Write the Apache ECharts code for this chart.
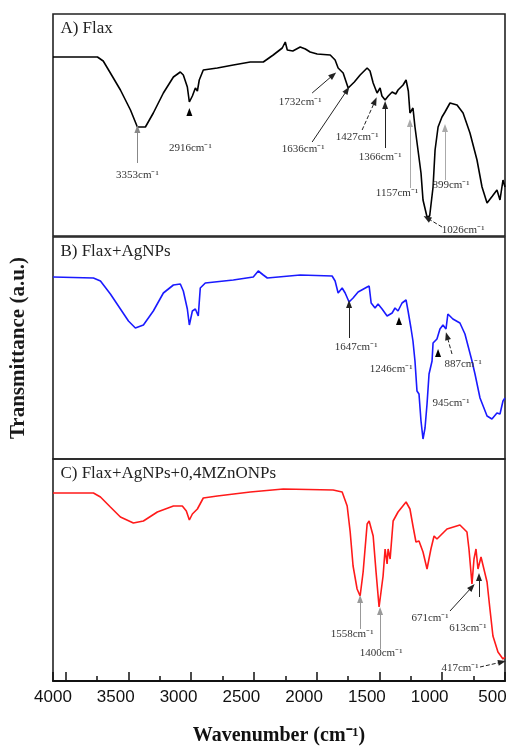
<!DOCTYPE html>
<html>
<head>
<meta charset="utf-8">
<script src="https://cdn.jsdelivr.net/npm/echarts@6/dist/echarts.min.js"></script>
<style>html,body{margin:0;padding:0;background:#fff}#c{width:506px;height:746px}</style>
</head>
<body>
<div id="c"></div>
<script>
// ---- data (wavenumber cm-1, transmittance a.u.) ----
const flax = [[4000,179],[3800,179],[3646,179],[3600,175],[3543,163],[3463,146],[3383,126],[3328,109],[3264,109],[3201,123],[3121,143],[3041,159],[2986,164],[2962,161],[2930,149],[2914,134],[2890,140],[2866,148],[2850,145],[2835,156],[2803,166],[2691,168],[2564,171],[2429,174],[2325,174],[2246,181],[2174,188],[2150,194],[2134,186],[2090,185],[2031,189],[1990,187],[1952,184],[1896,182],[1792,181],[1753,176],[1729,168],[1689,163],[1649,148],[1600,154],[1554,161],[1498,168],[1475,165],[1450,153],[1419,143],[1395,148],[1380,140],[1355,136],[1330,140],[1299,144],[1270,142],[1252,146],[1212,151],[1188,156],[1170,145],[1157,123],[1133,128],[1117,109],[1093,86],[1069,63],[1053,36],[1021,19],[1000,20],[973,49],[957,86],[933,109],[902,119],[878,124],[838,133],[782,131],[734,123],[679,103],[623,76],[583,49],[543,33],[500,40],[464,46],[440,36],[416,56],[400,49]];
const flaxAg = [[4000,182],[3678,181],[3622,178],[3543,165],[3463,150],[3399,138],[3344,131],[3280,134],[3201,148],[3121,166],[3041,174],[2986,175],[2962,168],[2930,150],[2914,134],[2890,148],[2866,150],[2843,143],[2827,171],[2787,176],[2564,179],[2405,182],[2365,188],[2325,184],[2293,181],[2031,184],[1777,183],[1753,178],[1729,166],[1697,171],[1673,166],[1642,157],[1610,161],[1570,167],[1498,172],[1482,173],[1466,156],[1435,151],[1411,155],[1379,150],[1339,143],[1299,146],[1276,151],[1252,148],[1220,156],[1188,159],[1172,148],[1149,131],[1133,118],[1117,98],[1101,68],[1085,65],[1069,38],[1053,20],[1037,31],[1021,55],[1005,85],[981,98],[973,116],[942,120],[918,130],[894,134],[870,130],[855,145],[815,140],[759,136],[719,125],[663,98],[639,85],[599,61],[543,43],[504,40],[464,46],[440,45],[416,58],[400,61]];
const flaxAgZn = [[4000,188],[3678,188],[3622,184],[3543,174],[3463,164],[3360,158],[3280,160],[3169,169],[3041,175],[2970,175],[2938,170],[2914,161],[2890,167],[2850,172],[2835,170],[2803,183],[2691,185],[2429,189],[2166,192],[1769,191],[1697,189],[1657,175],[1633,149],[1610,115],[1578,92],[1554,85],[1530,109],[1498,157],[1482,160],[1450,145],[1427,109],[1403,74],[1371,105],[1355,132],[1339,117],[1331,132],[1315,122],[1291,160],[1252,169],[1188,179],[1157,172],[1133,155],[1109,139],[1085,140],[1053,129],[1021,112],[990,132],[965,145],[942,142],[910,146],[862,152],[759,156],[703,149],[687,132],[663,97],[647,122],[631,132],[615,112],[591,124],[576,124],[543,99],[520,72],[496,45],[456,29],[416,22],[400,24]];

const xTicks = [4000,3500,3000,2500,2000,1500,1000,500];
const titles = ['A) Flax','B) Flax+AgNPs','C) Flax+AgNPs+0,4MZnONPs'];
const colors = ['#000000','#1a1aff','#ff1a1a'];

// peak labels per panel: [text, wavenumber, value]
const labelsA = [['3353cm⁻¹',3328,61],['2916cm⁻¹',2906,88],['1732cm⁻¹',2031,134],['1636cm⁻¹',2007,87],['1427cm⁻¹',1578,99],['1366cm⁻¹',1395,79],['1157cm⁻¹',1260,43],['899cm⁻¹',830,51],['1026cm⁻¹',734,6]];
const labelsB = [['1647cm⁻¹',1586,112],['1246cm⁻¹',1307,90],['887cm⁻¹',734,95],['945cm⁻¹',830,56]];
const labelsC = [['1558cm⁻¹',1618,47],['1400cm⁻¹',1387,28],['671cm⁻¹',997,63],['613cm⁻¹',695,53],['417cm⁻¹',758,13]];
// arrows: [w1,v1,w2,v2,lineColor,dashed]
const arrowsA = [[3328,73,3328,107,'#888',0],[1936,143,1769,161,'#222',0],[1936,94,1657,146,'#222',0],[1538,106,1435,135,'#222',1],[1355,88,1355,131,'#222',0],[1157,48,1157,113,'#aaa',0],[878,56,878,108,'#aaa',0],[902,9,1021,18,'#222',1]];
const arrowsB = [[1642,121,1642,155,'#222',0],[822,105,862,123,'#222',1]];
const arrowsC = [[1554,52,1554,82,'#999',0],[1395,32,1395,70,'#999',0],[838,70,663,94,'#222',0],[607,84,607,104,'#222',0],[599,14,424,19,'#222',1]];
// bare arrowheads: [w, v]
const headsA = [[2914,124]];
const headsB = [[1244,138],[933,106]];
const headsC = [];

const chart = echarts.init(document.getElementById('c'), null, {renderer:'canvas'});
const tops = [14, 237, 459];
const H = 222;
const serif = '"Liberation Serif","Times New Roman",serif';

const grids = tops.map(t => ({left:53, right:1, top:t, height:H, show:true, borderColor:'#222', borderWidth:1.6,
  backgroundColor:'transparent', containLabel:false, outerBoundsMode:'none'}));
const xAxes = tops.map((t,i) => ({
  gridIndex:i, type:'value', min:400, max:4000, inverse:true, interval:500,
  show: i===2,
  axisLine:{show:true, onZero:false, lineStyle:{color:'#111', width:2}},
  axisTick:{show:true, inside:true, length:9, lineStyle:{color:'#111', width:1.5}},
  minorTick:{show:true, splitNumber:2, length:5, lineStyle:{color:'#111', width:1.5}},
  splitLine:{show:false},
  axisLabel:{show:true, margin:8, fontSize:17, color:'#111', fontFamily:'"Liberation Sans",Arial,sans-serif',
    customValues: xTicks, formatter: v => (v===400? '' : String(v))},
  name: i===2 ? 'Wavenumber (cm⁻¹)' : '', nameLocation:'middle', nameGap:45,
  nameTextStyle:{fontSize:20, fontWeight:'bold', fontFamily:serif, color:'#111'}
}));
const yAxes = tops.map((t,i) => ({
  gridIndex:i, type:'value', min:0, max:H, show:true,
  axisLine:{show:false}, axisTick:{show:false}, axisLabel:{show:false}, splitLine:{show:false},
  name: i===1 ? 'Transmittance (a.u.)' : '', nameLocation:'middle', nameGap:24, nameRotate:90,
  nameTextStyle:{fontSize:21, fontWeight:'bold', fontFamily:serif, color:'#1a1a1a'}
}));

function mk(i, data, labels, arrows, heads){
  const titleX = 3945;
  const mp = [{coord:[titleX,207], value:titles[i], symbol:'circle', symbolSize:1,
      itemStyle:{color:'rgba(0,0,0,0)'},
      label:{show:true, position:'right', distance:0, formatter:titles[i], fontSize:17, fontFamily:serif, color:'#222'}}];
  labels.forEach(l => mp.push({coord:[l[1],l[2]], symbol:'circle', symbolSize:1, itemStyle:{color:'rgba(0,0,0,0)'},
      label:{show:true, position:'inside', formatter:l[0], fontSize:11, fontFamily:serif, color:'#333'}}));
  heads.forEach(h => mp.push({coord:[h[0],h[1]], symbol:'triangle', symbolSize:[6,8], itemStyle:{color:'#000'}, label:{show:false}}));
  const ml = arrows.map(a => [
    {coord:[a[0],a[1]], lineStyle:{color:a[4], width:1, type:a[5]?'dashed':'solid'}},
    {coord:[a[2],a[3]]}
  ]);
  return {
    type:'line', xAxisIndex:i, yAxisIndex:i, data:data, showSymbol:false, symbol:'none',
    lineStyle:{color:colors[i], width:1.6}, silent:true, animation:false,
    markPoint:{silent:true, animation:false, data:mp},
    markLine:{silent:true, animation:false, symbol:['none','triangle'], symbolSize:[6,8],
      label:{show:false}, itemStyle:{color:'#000'}, data:ml}
  };
}

chart.setOption({
  animation:false,
  grid:grids, xAxis:xAxes, yAxis:yAxes,
  series:[mk(0,flax,labelsA,arrowsA,headsA), mk(1,flaxAg,labelsB,arrowsB,headsB), mk(2,flaxAgZn,labelsC,arrowsC,headsC)]
});
</script>
</body>
</html>
